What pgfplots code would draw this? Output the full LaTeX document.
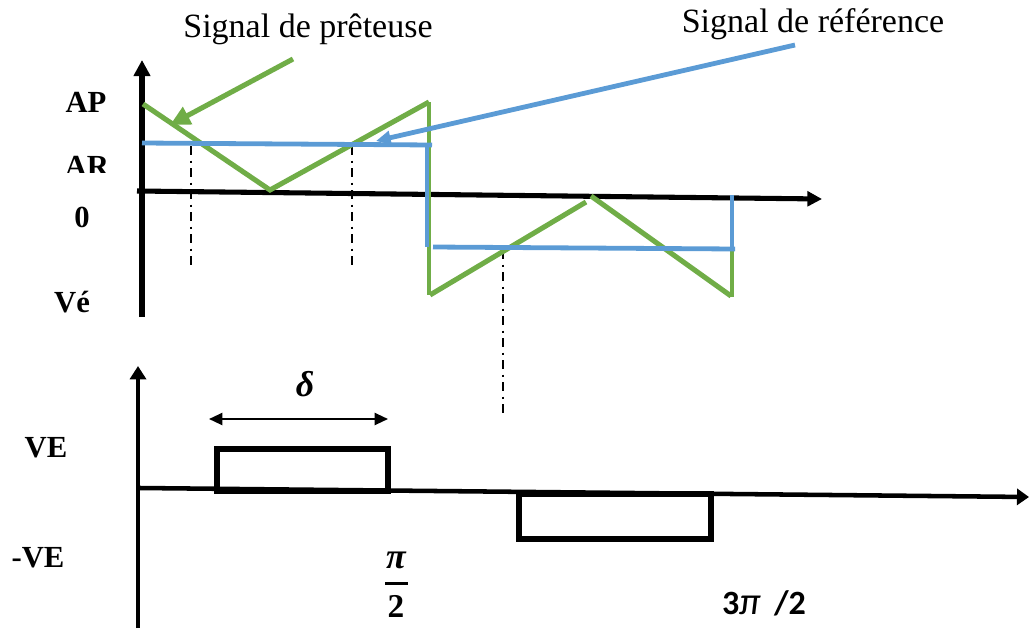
\documentclass[border=0pt]{standalone}
\usepackage{fontspec}
\setmainfont{Liberation Serif}
\newfontfamily\carlito{Carlito}
\usepackage{pgfplots}
\pgfplotsset{compat=1.18}
\usetikzlibrary{arrows.meta}
\definecolor{grn}{HTML}{70AD47}
\definecolor{blu}{HTML}{5B9BD5}
\begin{document}
\begin{tikzpicture}
\begin{axis}[name=ax, at={(0pt,0pt)}, anchor=south west, scale only axis, width=772.5pt, height=471pt,
  xmin=0, xmax=1030, ymin=0, ymax=628, y dir=reverse, hide axis, clip=false]
% ---------- top diagram ----------
\addplot[black,line width=3.8pt,-{Triangle[length=12pt,width=12pt]}] coordinates {(142,317) (142,60)};
\addplot[black,line width=3.8pt,-{Triangle[length=11pt,width=11pt]}] coordinates {(137,191) (822,199)};
% dash-dot guides
\addplot[black,line width=1.8pt,dash pattern=on 7pt off 4pt on 1.5pt off 4pt] coordinates {(191,146) (191,268)};
\addplot[black,line width=1.8pt,dash pattern=on 7pt off 4pt on 1.5pt off 4pt] coordinates {(352,146) (352,268)};
\addplot[black,line width=1.8pt,dash pattern=on 7pt off 4pt on 1.5pt off 4pt] coordinates {(503,250) (503,417)};
% carrier (green)
\addplot[grn,line width=3.8pt] coordinates {(143,104) (270,190) (429,102)};
\addplot[grn,line width=2.6pt] coordinates {(429,102) (429,295)};
\addplot[grn,line width=3.8pt] coordinates {(430,295) (586,202)};
\addplot[grn,line width=3.8pt] coordinates {(591,196) (731,296)};
\addplot[grn,line width=2.6pt] coordinates {(732,297) (732,250)};
% reference (blue)
\addplot[blu,line width=3.6pt] coordinates {(142,143) (432,145)};
\addplot[blu,line width=3.6pt] coordinates {(427,145) (427,247)};
\addplot[blu,line width=3.6pt] coordinates {(433,247) (735,249)};
\addplot[blu,line width=3.6pt] coordinates {(732,249) (732,195)};
% pointer arrows
\addplot[grn,line width=3.8pt,-{Triangle[length=15pt,width=14pt]}] coordinates {(293,59) (170,125)};
\addplot[blu,line width=3.6pt,-{Triangle[length=11pt,width=10pt]}] coordinates {(795,45) (376,141)};
% ---------- bottom diagram ----------
\addplot[black,line width=3.6pt,-{Triangle[length=10pt,width=12pt]}] coordinates {(138,628) (138,366)};
\addplot[black,line width=3.4pt,-{Triangle[length=9pt,width=12pt]}] coordinates {(140,488) (1029,497)};
\addplot[black,line width=4.5pt,line join=miter] coordinates {(217,491) (217,449) (388,449) (388,491) (217,491) (217,449)};
\addplot[black,line width=4.5pt,line join=miter] coordinates {(519,494) (519,539) (711,539) (711,494) (519,494) (519,539)};
\addplot[black,line width=1.6pt,arrows={Triangle[length=10pt,width=9pt]-Triangle[length=10pt,width=9pt]}] coordinates {(209,419) (388,419)};
\end{axis}
% labels, in pixel units measured from the top-left corner (1px = 0.75pt)
\begin{scope}[x=0.75pt,y=-0.75pt,shift={(0pt,471pt)}]
\node[anchor=base,font=\fontsize{25.5}{30}\selectfont] at (308,38) {Signal de prêteuse};
\node[anchor=base,font=\fontsize{25.5}{30}\selectfont] at (813,33) {Signal de référence};
\node[anchor=base,font=\fontsize{23}{27}\selectfont\bfseries] at (86,113) {AP};
\node[anchor=base,font=\fontsize{23}{27}\selectfont\bfseries] at (87,177) {AR};
\fill[white] (55,173) rectangle (120,184);
\node[anchor=base,font=\fontsize{23}{27}\selectfont\bfseries] at (82,228) {0};
\node[anchor=base,font=\fontsize{23}{27}\selectfont\bfseries] at (72,313) {Vé};
\node[anchor=base,font=\fontsize{27}{30}\selectfont\bfseries\itshape] at (305,397) {δ};
\node[anchor=base,font=\fontsize{23}{27}\selectfont\bfseries] at (46,457) {VE};
\node[anchor=base,font=\fontsize{23}{27}\selectfont\bfseries] at (38,567) {-VE};
\node[anchor=base,font=\fontsize{27}{30}\selectfont\bfseries\itshape] at (396,568) {π};
\fill[black] (385,581.5) rectangle (408,584.5);
\node[anchor=base,font=\fontsize{25}{28}\selectfont\bfseries] at (396,617) {2};
\node[anchor=base,font=\fontsize{25.5}{30}\selectfont\carlito\bfseries] at (764,614) {3{\fontsize{29}{30}\selectfont\mdseries\itshape π}\, /2};
\end{scope}
\pgfresetboundingbox
\useasboundingbox (0pt,0pt) rectangle (772.5pt,471pt);
\end{tikzpicture}
\end{document}
